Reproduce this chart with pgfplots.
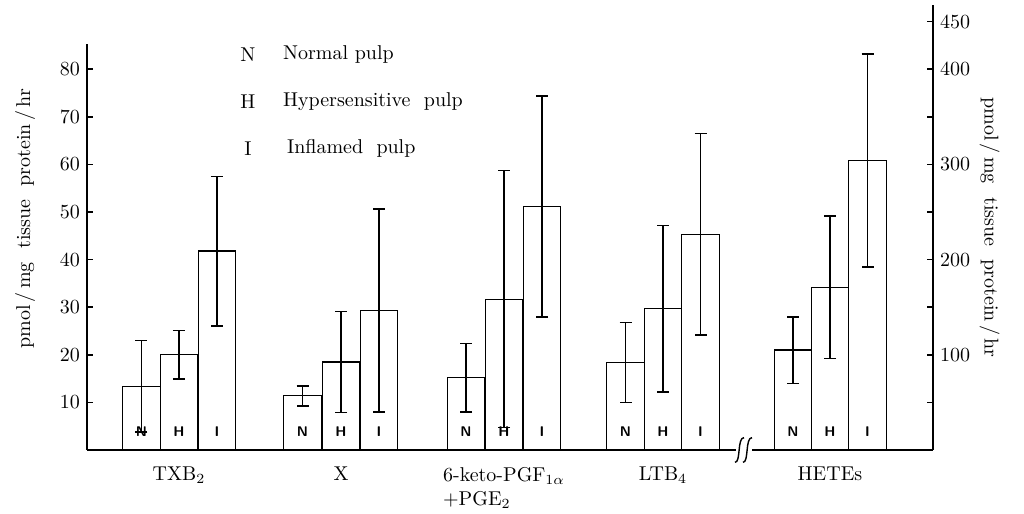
\documentclass[border=0pt]{standalone}
\usepackage{pgfplots}
\pgfplotsset{compat=1.18}
\tikzset{lett/.style={font=\scriptsize\sffamily\bfseries}}
\begin{document}
\begin{tikzpicture}
\pgfplotsset{
  common/.style={scale only axis, width=423pt, xmin=87, xmax=933, ymin=0,
    enlargelimits=false, clip=false, tick align=inside,
    major tick length=3pt, minor tick length=3pt,
    axis line style={line width=0.8pt,-}, tick style={line width=0.8pt,black}},
  barstyle/.style={ybar, bar width=37.7, bar shift=0pt, fill=white, draw=black, line width=0.6pt,
    error bars/.cd, y dir=both, y explicit,
    error bar style={line width=0.8pt},
    error mark options={rotate=90, mark size=3pt, line width=0.8pt}},
}
\begin{axis}[common, height=203pt, ymax=85.3,
  axis y line*=left, axis x line*=bottom,
  ytick={10,20,...,80},
  xtick={179,341,504,663,830},
  xticklabels={TXB$_2$, X, {6-keto-PGF$_{1\alpha}$\\+PGE$_2$}, LTB$_4$, HETEs},
  x tick style={draw=none},
  xticklabel style={align=left, yshift=-5pt},
  ylabel={pmol\,/\,mg\ \ tissue\ \ protein\,/\,hr},
  ylabel style={at={(axis description cs:-0.073,0.57)}, anchor=center}]
% N
\addplot[barstyle] table[x=x,y=y,y error=e]{
x y e
141.5 13.4 9.6
302.5 11.4 2.1
466 15.2 7.2
625.5 18.4 8.4
};
% H
\addplot[barstyle] table[x=x,y=y,y error=e]{
x y e
179 20.0 5.1
341 18.5 10.6
504 31.7 27.0
663 29.7 17.5
};
% I
\addplot[barstyle] table[x=x,y=y,y error=e]{
x y e
217 41.8 15.7
379 29.3 21.3
542 51.2 23.2
700.5 45.3 21.2
};
% letters
\node[lett] at (axis cs:141.5,3.8) {N};
\node[lett] at (axis cs:179,3.8) {H};
\node[lett] at (axis cs:217,3.8) {I};
\node[lett] at (axis cs:302.5,3.8) {N};
\node[lett] at (axis cs:341,3.8) {H};
\node[lett] at (axis cs:379,3.8) {I};
\node[lett] at (axis cs:466,3.8) {N};
\node[lett] at (axis cs:504,3.8) {H};
\node[lett] at (axis cs:542,3.8) {I};
\node[lett] at (axis cs:625.5,3.8) {N};
\node[lett] at (axis cs:663,3.8) {H};
\node[lett] at (axis cs:700.5,3.8) {I};
% legend text
\node at (axis cs:248,83) {N};
\node[anchor=west] at (axis cs:276,83) {Normal\ pulp};
\node at (axis cs:248,73.1) {H};
\node[anchor=west] at (axis cs:276,73.1) {Hypersensitive\ \ pulp};
\node at (axis cs:248,63.4) {I};
\node[anchor=west] at (axis cs:280,63.4) {Inflamed\ \ pulp};
% axis break
\draw[white, line width=3pt] (axis cs:736,0) -- (axis cs:752,0);
\draw[line width=0.7pt] (axis cs:735,-2.6) .. controls (axis cs:741,-2.6) and (axis cs:737,2.6) .. (axis cs:744,2.6);
\draw[line width=0.7pt] (axis cs:743,-2.6) .. controls (axis cs:749,-2.6) and (axis cs:745,2.6) .. (axis cs:752,2.6);
\end{axis}
\begin{axis}[common, height=222.5pt, ymax=467.4,
  axis y line*=right, axis x line=none,
  ytick={100,200,300,400,450}, minor ytick={50,150,250,350},
  yticklabel pos=right,
  ylabel={pmol\,/\,mg\ \ tissue\ \ protein\,/\,hr},
  ylabel style={at={(axis description cs:1.067,0.5)}, anchor=center, rotate=180}]
% HETEs (right axis)
\addplot[barstyle] table[x=x,y=y,y error=e]{
x y e
793 105 35
830 171 75
867.5 304 112
};
\node[lett] at (axis cs:793,19) {N};
\node[lett] at (axis cs:830,19) {H};
\node[lett] at (axis cs:867.5,19) {I};
\end{axis}
\pgfresetboundingbox
\path[use as bounding box] (-43.5pt,-32pt) rectangle (468.5pt,225pt);
\end{tikzpicture}
\end{document}
